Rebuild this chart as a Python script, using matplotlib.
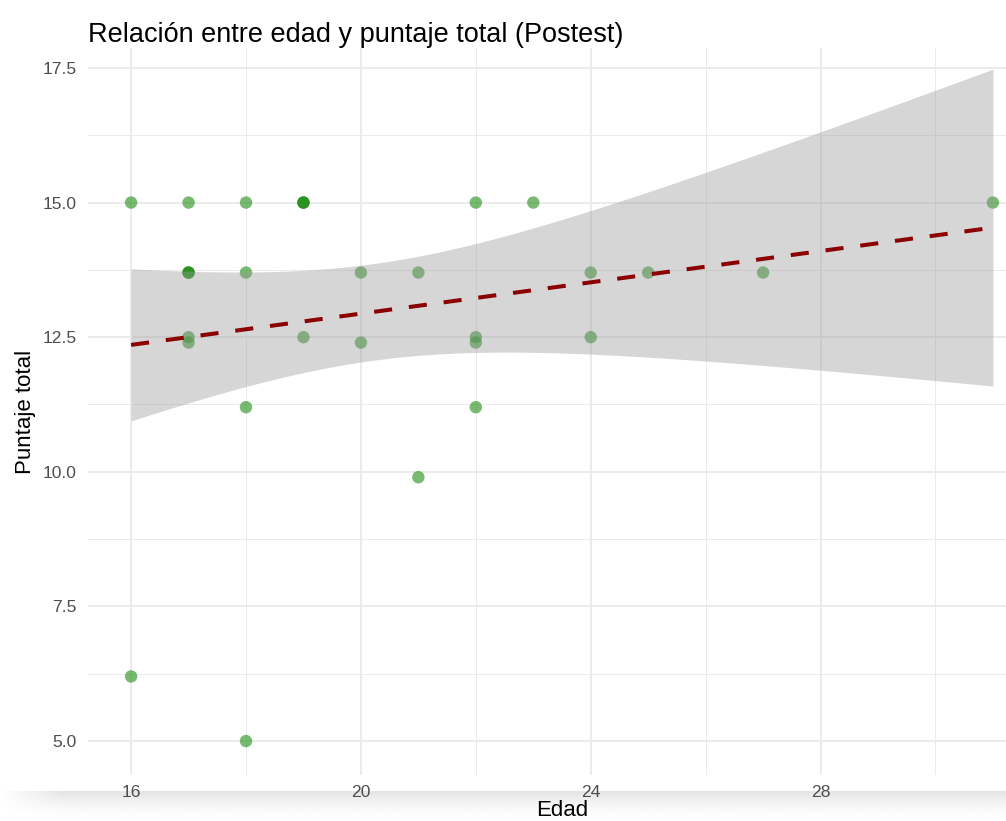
import numpy as np
import matplotlib
matplotlib.use("Agg")
import matplotlib.pyplot as plt

plt.rcParams["font.family"] = ["Liberation Sans", "DejaVu Sans"]

# datos (edad, puntaje total postest)
edad = [16, 16, 17, 17, 17, 17, 17, 17, 18, 18, 18, 18, 19, 19, 19, 19,
        20, 20, 21, 21, 22, 22, 22, 22, 23, 24, 24, 25, 27, 31]
puntaje = [15, 6.2, 15, 13.7, 13.7, 13.7, 12.5, 12.4, 15, 13.7, 11.2, 5.0,
           15, 15, 15, 12.5, 13.7, 12.4, 13.7, 9.9, 15, 12.5, 12.4, 11.2,
           15, 13.7, 12.5, 13.7, 13.7, 15]

x_ticks = [16, 20, 24, 28]
x_minor = [18, 22, 26, 30]
y_ticks = [5.0, 7.5, 10.0, 12.5, 15.0, 17.5]
y_minor = [6.25, 8.75, 11.25, 13.75, 16.25]

x = np.array(edad, dtype=float)
y = np.array(puntaje, dtype=float)

# ajuste lineal con intervalo de confianza del 95% (como geom_smooth(method="lm"))
n = len(x)
slope, intercept = np.polyfit(x, y, 1)
resid = y - (slope * x + intercept)
s = np.sqrt(np.sum(resid ** 2) / (n - 2))
sxx = np.sum((x - x.mean()) ** 2)
t_crit = 2.048  # t(0.975, df=28)
xs = np.linspace(x.min(), x.max(), 80)
fit = slope * xs + intercept
se = s * np.sqrt(1.0 / n + (xs - x.mean()) ** 2 / sxx)
lo = fit - t_crit * se
hi = fit + t_crit * se

fig = plt.figure(figsize=(10.06, 8.21), dpi=100)
ax = fig.add_axes([88 / 1006, 46 / 821, 948 / 1006, 727 / 821])
ax.set_facecolor("none")

ax.scatter(x, y, s=80, color="#1E8C14", alpha=0.6, edgecolors="none", zorder=2)
ax.fill_between(xs, lo, hi, color="#999999", alpha=0.4, linewidth=0, zorder=3)
ax.plot(xs, fit, color="#8B0000", linewidth=2.9, dashes=(4.5, 4.2), zorder=4)

ax.set_xlim(15.25, 31.75)
ax.set_ylim(4.37, 17.87)
ax.set_xticks(x_ticks)
ax.set_xticks(x_minor, minor=True)
ax.set_yticks(y_ticks)
ax.set_yticks(y_minor, minor=True)
ax.set_yticklabels([f"{v:.1f}" for v in y_ticks])

ax.grid(True, which="major", color="#EBEBEB", linewidth=1.4)
ax.grid(True, which="minor", color="#EBEBEB", linewidth=0.7)
ax.set_axisbelow(True)
for sp in ax.spines.values():
    sp.set_visible(False)
ax.tick_params(which="both", length=0, labelsize=12.6, labelcolor="#4D4D4D")
ax.tick_params(axis="y", pad=8)
ax.tick_params(axis="x", pad=7.5)

ax.set_xlabel("Edad", fontsize=16, va="baseline")
ax.xaxis.set_label_coords(0.5, (775 - 816) / 727)
ax.set_ylabel("Puntaje total", fontsize=16, va="center")
ax.yaxis.set_label_coords((25 - 88) / 948, 0.5)
ax.set_title("Relación entre edad y puntaje total (Postest)", loc="left",
             fontsize=19.5, y=(775 - 42) / 727, va="baseline", pad=0)

# sombra gris al pie de la captura
shade = fig.add_axes([0, 0, 1, 30 / 821], zorder=-1)
gy = np.linspace(0, 1, 30)[:, None]
gx = np.clip(np.linspace(0, 1, 400) / 0.06, 0, 1)[None, :]
shade.imshow(1 - 0.11 * gy[::-1] ** 1.6 * gx, cmap="gray", vmin=0, vmax=1,
             aspect="auto", extent=[0, 1, 0, 1])
shade.axis("off")

fig.savefig("out.png", dpi=100)
